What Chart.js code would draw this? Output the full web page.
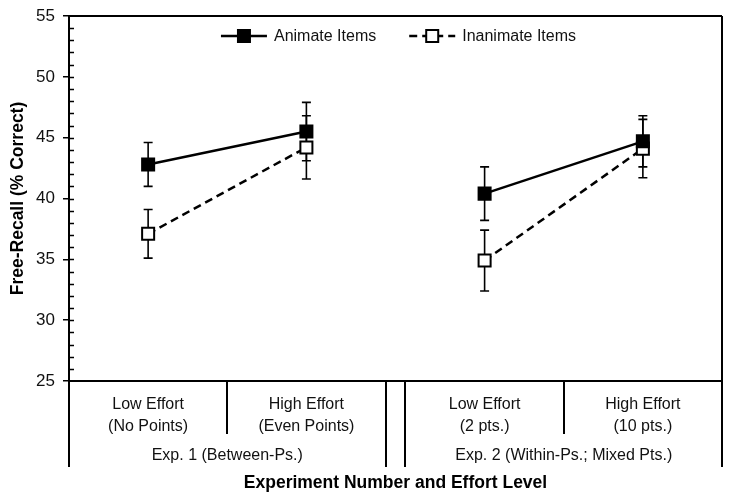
<!DOCTYPE html>
<html>
<head>
<meta charset="utf-8">
<script src="https://cdn.jsdelivr.net/npm/chart.js@4/dist/chart.umd.min.js"></script>
<style>
  body { margin: 0; background: #fff; }
</style>
</head>
<body>
<canvas id="grafico" width="730" height="502"></canvas>
<script>
// dados
var categorias = [['Low Effort', '(No Points)'], ['High Effort', '(Even Points)'], ['Low Effort', '(2 pts.)'], ['High Effort', '(10 pts.)']];
var experimentos = ['Exp. 1 (Between-Ps.)', 'Exp. 2 (Within-Ps.; Mixed Pts.)'];
var expDaCategoria = [0, 0, 1, 1];
var animate = [42.8, 45.5, 40.4, 44.7];
var animateErro = [1.8, 2.4, 2.2, 2.1];
var inanimate = [37.1, 44.2, 34.9, 44.1];
var inanimateErro = [2.0, 2.6, 2.5, 2.4];
var yMin = 25, yMax = 55, yPasso = 5;

var FONTE = "'Liberation Sans', Arial, sans-serif";
var GAP = 0.126; // espaco entre os dois experimentos (fracao de uma celula)
var posX = categorias.map(function (c, i) { return i + 0.5 + expDaCategoria[i] * GAP; });

function pontos(valores) {
    return valores.map(function (v, i) { return { x: posX[i], y: v }; });
}

var barrasErro = {
    id: 'barrasErro',
    beforeDatasetsDraw: function (chart) {
        var ctx = chart.ctx, x = chart.scales.x, y = chart.scales.y;
        var erros = [animateErro, inanimateErro];
        ctx.save();
        ctx.strokeStyle = '#000';
        ctx.lineWidth = 1.6;
        chart.data.datasets.forEach(function (ds, d) {
            ds.data.forEach(function (p, i) {
                var px = x.getPixelForValue(p.x);
                var top = y.getPixelForValue(p.y + erros[d][i]);
                var bot = y.getPixelForValue(p.y - erros[d][i]);
                ctx.beginPath();
                ctx.moveTo(px, top); ctx.lineTo(px, bot);
                ctx.moveTo(px - 4.5, top); ctx.lineTo(px + 4.5, top);
                ctx.moveTo(px - 4.5, bot); ctx.lineTo(px + 4.5, bot);
                ctx.stroke();
            });
        });
        ctx.restore();
    }
};

var moldura = {
    id: 'moldura',
    afterDraw: function (chart) {
        var ctx = chart.ctx, x = chart.scales.x, y = chart.scales.y, a = chart.chartArea;
        var fundoCaixa = 467, meioCaixa = 434;
        ctx.save();
        ctx.strokeStyle = '#000';
        ctx.lineWidth = 2;
        ctx.beginPath();
        // borda de cima e da direita
        ctx.moveTo(a.left, a.top); ctx.lineTo(a.right, a.top);
        ctx.moveTo(a.right, a.top); ctx.lineTo(a.right, fundoCaixa);
        ctx.moveTo(a.left, a.bottom); ctx.lineTo(a.left, fundoCaixa);
        // divisorias das categorias
        [1, 3 + GAP].forEach(function (v) {
            var px = Math.round(x.getPixelForValue(v));
            ctx.moveTo(px, a.bottom); ctx.lineTo(px, meioCaixa);
        });
        [2, 2 + GAP].forEach(function (v) {
            var px = Math.round(x.getPixelForValue(v));
            ctx.moveTo(px, a.bottom); ctx.lineTo(px, fundoCaixa);
        });
        ctx.stroke();

        // tracinhos menores do eixo y (para dentro)
        ctx.lineWidth = 1.5;
        ctx.beginPath();
        for (var v = yMin + 1; v < yMax; v++) {
            var py = Math.round(y.getPixelForValue(v)) + 0.5;
            ctx.moveTo(a.left, py); ctx.lineTo(a.left + 5, py);
        }
        ctx.stroke();

        // nomes dos experimentos
        ctx.fillStyle = '#111';
        ctx.font = '16px ' + FONTE;
        ctx.textAlign = 'center';
        ctx.textBaseline = 'middle';
        var limites = [[0, 2], [2 + GAP, 4 + GAP]];
        experimentos.forEach(function (t, e) {
            var cx = (x.getPixelForValue(limites[e][0]) + x.getPixelForValue(limites[e][1])) / 2;
            ctx.fillText(t, cx, 456);
        });

        // legenda
        var itens = [
            { texto: 'Animate Items', ds: chart.data.datasets[0] },
            { texto: 'Inanimate Items', ds: chart.data.datasets[1] }
        ];
        var amostra = 46, sep = 7, entre = 33;
        var total = 0;
        itens.forEach(function (it, k) {
            it.w = ctx.measureText(it.texto).width;
            total += amostra + sep + it.w + (k ? 0 : entre);
        });
        var lx = (a.left + a.right) / 2 - total / 2 + 3, ly = 36;
        itens.forEach(function (it) {
            ctx.lineWidth = 2.5;
            ctx.setLineDash(it.ds.borderDash || []);
            ctx.beginPath();
            ctx.moveTo(lx, ly); ctx.lineTo(lx + amostra, ly);
            ctx.stroke();
            ctx.setLineDash([]);
            ctx.lineWidth = 2;
            ctx.fillStyle = it.ds.pointBackgroundColor;
            ctx.fillRect(lx + amostra / 2 - 6, ly - 6, 12, 12);
            ctx.strokeRect(lx + amostra / 2 - 6, ly - 6, 12, 12);
            ctx.fillStyle = '#111';
            ctx.textAlign = 'left';
            ctx.fillText(it.texto, lx + amostra + sep, ly + 1);
            lx += amostra + sep + it.w + entre;
        });
        ctx.restore();
    }
};

var contexto = document.getElementById('grafico').getContext('2d');
var grafico = new Chart(contexto, {
    type: 'line',
    data: {
        datasets: [{
            label: 'Animate Items',
            data: pontos(animate),
            borderColor: '#000',
            borderWidth: 2.5,
            pointStyle: 'rect',
            pointRadius: 8.5,
            pointBorderWidth: 2,
            pointBorderColor: '#000',
            pointBackgroundColor: '#000',
            segment: { borderColor: function (c) { return c.p0DataIndex === 1 ? 'rgba(0,0,0,0)' : '#000'; } }
        }, {
            label: 'Inanimate Items',
            data: pontos(inanimate),
            borderColor: '#000',
            borderWidth: 2.5,
            borderDash: [8, 5],
            pointStyle: 'rect',
            pointRadius: 8.5,
            pointBorderWidth: 2,
            pointBorderColor: '#000',
            pointBackgroundColor: '#fff',
            segment: { borderColor: function (c) { return c.p0DataIndex === 1 ? 'rgba(0,0,0,0)' : '#000'; } }
        }]
    },
    options: {
        responsive: false,
        animation: false,
        layout: { autoPadding: false, padding: { top: 16, right: 8, left: 0, bottom: 0 } },
        plugins: { legend: { display: false }, tooltip: { enabled: false } },
        scales: {
            x: {
                type: 'linear',
                min: 0,
                max: 4 + GAP,
                afterBuildTicks: function (s) { s.ticks = posX.map(function (v) { return { value: v }; }); },
                afterFit: function (s) { s.height = 121; s.paddingLeft = 0; s.paddingRight = 0; },
                grid: { display: false },
                border: { display: true, color: '#000', width: 2 },
                ticks: {
                    autoSkip: false,
                    maxRotation: 0,
                    padding: 5,
                    color: '#111',
                    font: { family: FONTE, size: 16, lineHeight: 1.375 },
                    callback: function (v, i) { return categorias[i]; }
                },
                title: {
                    display: true,
                    text: 'Experiment Number and Effort Level',
                    color: '#000',
                    font: { family: FONTE, size: 17.5, weight: 'bold', lineHeight: 1.2 },
                    padding: { top: 0, bottom: 8 }
                }
            },
            y: {
                min: yMin,
                max: yMax,
                afterFit: function (s) { s.width = 69; s.paddingTop = 0; s.paddingBottom = 0; },
                grid: { drawOnChartArea: false, color: '#000', tickLength: 6, lineWidth: 1.5 },
                border: { display: true, color: '#000', width: 2 },
                ticks: {
                    stepSize: yPasso,
                    padding: 8,
                    color: '#111',
                    font: { family: FONTE, size: 17 }
                },
                title: {
                    display: true,
                    text: 'Free-Recall (% Correct)',
                    color: '#000',
                    font: { family: FONTE, size: 17.5, weight: 'bold', lineHeight: 1.2 },
                    padding: { top: 8, bottom: 0 }
                }
            }
        }
    },
    plugins: [barrasErro, moldura]
});
</script>
</body>
</html>
